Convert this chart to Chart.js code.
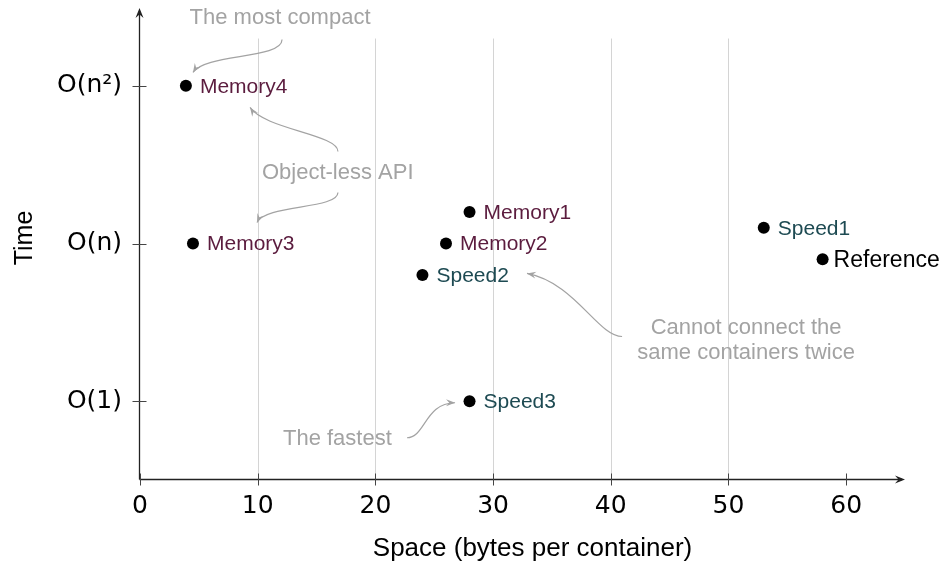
<!DOCTYPE html>
<html>
<head>
<meta charset="utf-8">
<script src="https://cdn.jsdelivr.net/npm/chart.js@4.4.0/dist/chart.umd.min.js"></script>
<style>
  html, body { margin: 0; padding: 0; background: #fff; }
  #wrap { width: 947px; height: 569px; }
</style>
</head>
<body>
<div id="wrap"><canvas id="grafico"></canvas></div>
<script>
// dados
const containerNames = ['Memory4', 'Memory3', 'Memory1', 'Memory2', 'Speed2', 'Speed3', 'Speed1', 'Reference']
const spaceBytes = [3.9, 4.5, 28, 26, 24, 28, 53, 58]
const timeLevel = [2, 1, 1.2, 1, 0.8, 0, 1.1, 0.9]

const timeTicks = [0, 1, 2]
const timeTickLabels = ['O(1)', 'O(n)', 'O(n²)']
const spaceTicks = [0, 10, 20, 30, 40, 50, 60]
const gridValues = [10, 20, 30, 40, 50]

// anotacoes em cinza (texto + setas curvas), em unidades dos eixos
const noteTexts = [['The most compact'], ['Object-less API'], ['Cannot connect the', 'same containers twice'], ['The fastest']]
const notePos = [[11.9, 2.435], [16.8, 1.457], [51.5, 0.394], [16.77, -0.232]]
const noteArrows = [
  [[[12.07, 2.294], [12.07, 2.168], [5.52, 2.206], [4.5, 2.085]]],
  [[[16.82, 1.584], [16.82, 1.692], [10.62, 1.724], [9.35, 1.863]],
   [[16.82, 1.324], [16.82, 1.216], [10.62, 1.248], [9.94, 1.133]]],
  [[[40.96, 0.41], [38.92, 0.41], [36.96, 0.752], [32.88, 0.81]]],
  [[[22.69, -0.232], [24.22, -0.232], [24.22, -0.01], [26.77, -0.01]]]
]

const corMemory = '#5b1c3e'
const corSpeed = '#1d4a52'
const corNota = '#a3a3a3'

function corDoNome(nome) {
  if (nome.startsWith('Memory')) return corMemory
  if (nome.startsWith('Speed')) return corSpeed
  return '#000'
}

function ponta(ctx, x, y, fx, fy, len, half, cor) {
  const a = Math.atan2(y - fy, x - fx)
  ctx.save()
  ctx.translate(x, y)
  ctx.rotate(a)
  ctx.beginPath()
  ctx.moveTo(0, 0)
  ctx.lineTo(-len, -half)
  ctx.lineTo(-len * 0.65, 0)
  ctx.lineTo(-len, half)
  ctx.closePath()
  ctx.fillStyle = cor
  ctx.fill()
  ctx.restore()
}

const eixosPlugin = {
  id: 'eixos',
  beforeDatasetsDraw(chart) {
    const ctx = chart.ctx
    const { x, y } = chart.scales
    const area = chart.chartArea
    ctx.save()
    // linhas de grade verticais
    ctx.strokeStyle = '#d4d4d4'
    ctx.lineWidth = 1
    const topo = y.getPixelForValue(2.3)
    gridValues.forEach(v => {
      const px = Math.round(x.getPixelForValue(v)) + 0.5
      ctx.beginPath()
      ctx.moveTo(px, topo)
      ctx.lineTo(px, area.bottom)
      ctx.stroke()
    })
    // eixos com setas
    ctx.strokeStyle = '#222'
    ctx.lineWidth = 1.3
    const x0 = area.left - 0.5
    const y0 = area.bottom - 0.5
    ctx.beginPath()
    ctx.moveTo(x0, y0)
    ctx.lineTo(area.right - 3, y0)
    ctx.moveTo(x0, y0)
    ctx.lineTo(x0, area.top + 4)
    ctx.stroke()
    ponta(ctx, area.right, y0, area.right - 10, y0, 10, 4, '#222')
    ponta(ctx, x0, area.top + 1, x0, area.top + 11, 10, 4, '#222')
    // marcas
    ctx.strokeStyle = '#444'
    ctx.lineWidth = 1
    ctx.beginPath()
    spaceTicks.forEach(v => {
      const px = Math.round(x.getPixelForValue(v)) + 0.5
      ctx.moveTo(px, y0 - 6)
      ctx.lineTo(px, y0 + 6)
    })
    timeTicks.forEach(v => {
      const py = Math.round(y.getPixelForValue(v)) + 0.5
      ctx.moveTo(x0 - 7, py)
      ctx.lineTo(x0 + 7, py)
    })
    ctx.stroke()
    ctx.restore()
  },
  afterDatasetsDraw(chart) {
    const ctx = chart.ctx
    const { x, y } = chart.scales
    const area = chart.chartArea
    ctx.save()
    // rotulos dos pontos
    ctx.textBaseline = 'middle'
    ctx.textAlign = 'left'
    containerNames.forEach((nome, i) => {
      const px = x.getPixelForValue(spaceBytes[i])
      const py = y.getPixelForValue(timeLevel[i])
      const ref = nome === 'Reference'
      ctx.font = (ref ? 23 : 21) + 'px "Liberation Sans", Arial, sans-serif'
      ctx.fillStyle = corDoNome(nome)
      ctx.fillText(nome, px + (ref ? 11 : 14), py + 1)
    })
    // anotacoes
    ctx.font = '22px "Liberation Sans", Arial, sans-serif'
    ctx.fillStyle = corNota
    ctx.textAlign = 'center'
    noteTexts.forEach((linhas, i) => {
      const cx = x.getPixelForValue(notePos[i][0])
      const cy = y.getPixelForValue(notePos[i][1])
      const h = 25
      linhas.forEach((t, k) => {
        ctx.fillText(t, cx, cy + (k - (linhas.length - 1) / 2) * h + 1)
      })
    })
    ctx.strokeStyle = corNota
    ctx.lineWidth = 1.2
    noteArrows.forEach(lista => {
      lista.forEach(c => {
        const p = c.map(q => [x.getPixelForValue(q[0]), y.getPixelForValue(q[1])])
        ctx.beginPath()
        ctx.moveTo(p[0][0], p[0][1])
        ctx.bezierCurveTo(p[1][0], p[1][1], p[2][0], p[2][1], p[3][0], p[3][1])
        ctx.stroke()
        ponta(ctx, p[3][0], p[3][1], p[2][0], p[2][1], 9, 3.5, corNota)
      })
    })
    // titulos dos eixos
    ctx.fillStyle = '#000'
    ctx.font = '26px "Liberation Sans", Arial, sans-serif'
    ctx.textAlign = 'center'
    ctx.textBaseline = 'alphabetic'
    ctx.fillText('Space (bytes per container)', (area.left + area.right) / 2 + 10, 556)
    ctx.save()
    ctx.translate(32, 238)
    ctx.rotate(-Math.PI / 2)
    ctx.font = '25px "Liberation Sans", Arial, sans-serif'
    ctx.fillText('Time', 0, 0)
    ctx.restore()
    ctx.restore()
  }
}

const ctx = document.getElementById('grafico')
new Chart(ctx, {
  type: 'scatter',
  data: {
    datasets: [{
      label: 'containers',
      data: spaceBytes.map((v, i) => ({ x: v, y: timeLevel[i] })),
      pointRadius: 6,
      pointHoverRadius: 6,
      backgroundColor: '#000',
      borderColor: '#000',
      borderWidth: 0
    }]
  },
  options: {
    responsive: true,
    maintainAspectRatio: false,
    animation: false,
    layout: { padding: { top: 7, right: 42, left: 0, bottom: 0 } },
    plugins: { legend: { display: false }, tooltip: { enabled: false } },
    scales: {
      x: {
        type: 'linear',
        min: 0,
        max: 65,
        grid: { display: false, drawTicks: false, tickLength: 0 },
        border: { display: false },
        afterBuildTicks: s => { s.ticks = spaceTicks.map(v => ({ value: v })) },
        afterFit: s => { s.height = 89; s.paddingLeft = 0; s.paddingRight = 0 },
        ticks: {
          autoSkip: false,
          maxRotation: 0,
          padding: 11,
          color: '#000',
          font: { family: 'DejaVu Sans', size: 25 }
        }
      },
      y: {
        type: 'linear',
        min: -0.5,
        max: 2.5,
        grid: { display: false, drawTicks: false, tickLength: 0 },
        border: { display: false },
        afterBuildTicks: s => { s.ticks = timeTicks.map(v => ({ value: v })) },
        afterFit: s => { s.width = 140; s.paddingTop = 0; s.paddingBottom = 0 },
        ticks: {
          padding: 18,
          color: '#000',
          font: { family: 'DejaVu Sans', size: 25 },
          callback: v => timeTickLabels[timeTicks.indexOf(v)]
        }
      }
    }
  },
  plugins: [eixosPlugin]
})
</script>
</body>
</html>
